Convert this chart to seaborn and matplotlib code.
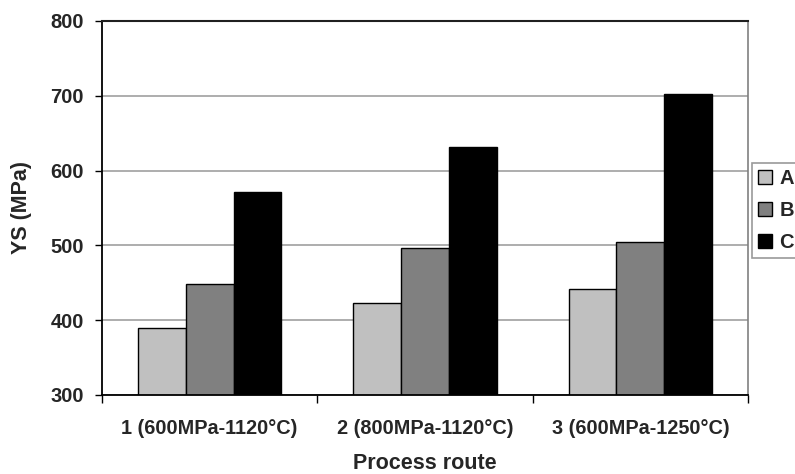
import numpy as np
import pandas as pd
import matplotlib
matplotlib.use('Agg')
import matplotlib.pyplot as plt
import seaborn as sns

# data
routes = ['1 (600MPa-1120°C)', '2 (800MPa-1120°C)', '3 (600MPa-1250°C)']
alloys = ['A', 'B', 'C']
ys_A = [389, 423, 442]
ys_B = [448, 496, 505]
ys_C = [571, 631, 703]
colors = ['#c0c0c0', '#808080', '#000000']

rows = []
for name, vals in zip(alloys, [ys_A, ys_B, ys_C]):
    for r, v in zip(routes, vals):
        rows.append({'route': r, 'alloy': name, 'ys': v})
df = pd.DataFrame(rows)

sns.set_style('white')
plt.rcParams['font.family'] = ['Liberation Sans', 'DejaVu Sans']
plt.rcParams['font.weight'] = 'bold'

fig = plt.figure(figsize=(7.95, 4.74), dpi=100)
ax = fig.add_axes([0.1283, 0.1667, 0.9409 - 0.1283, 0.9557 - 0.1667])

sns.barplot(data=df, x='route', y='ys', hue='alloy', palette=colors,
            edgecolor='black', linewidth=1, width=0.665, gap=0,
            order=routes, hue_order=alloys, ax=ax)

ax.set_ylim(300, 800)
ax.set_xlim(-0.5, 2.5)
ax.set_yticks(np.arange(300, 801, 100))
ax.yaxis.grid(True, color='#a0a0a0', linewidth=1.2)
ax.set_axisbelow(True)

ax.tick_params(axis='y', which='major', direction='out', length=5, width=1,
               color='black', labelsize=14.5, pad=8, left=True)
ax.tick_params(axis='x', which='major', length=0, labelsize=14.3, pad=17)
ax.set_xticks([-0.5, 0.5, 1.5, 2.5], minor=True)
ax.tick_params(axis='x', which='minor', direction='out', length=6, width=1,
               color='black', bottom=True)
for lab in ax.get_xticklabels() + ax.get_yticklabels():
    lab.set_fontweight('bold')

ax.set_xlabel('Process route', fontsize=15.5, fontweight='bold', labelpad=11)
ax.set_ylabel('YS (MPa)', fontsize=15.5, fontweight='bold', labelpad=13)

for side in ['left', 'bottom']:
    ax.spines[side].set_color('black')
    ax.spines[side].set_linewidth(1.3)
ax.spines['top'].set_color('#202020')
ax.spines['top'].set_linewidth(1.5)
ax.spines['right'].set_color('#808080')
ax.spines['right'].set_linewidth(1.2)

ax.get_legend().remove()
handles = [plt.Rectangle((0, 0), 1, 1, facecolor=c, edgecolor='black', linewidth=1)
           for c in colors]
# legend sits past the right edge of the figure, as in the reference
leg = fig.legend(handles, alloys, loc='upper left',
                 bbox_to_anchor=(0.946, 0.656), bbox_transform=fig.transFigure,
                 borderaxespad=0, fancybox=False, frameon=True,
                 edgecolor='#808080', handlelength=0.7, handleheight=0.7,
                 handletextpad=0.35, labelspacing=0.65, borderpad=0.3,
                 prop={'size': 14.5, 'weight': 'bold'})
leg.get_frame().set_linewidth(1.2)

fig.savefig('out.png', dpi=100)
